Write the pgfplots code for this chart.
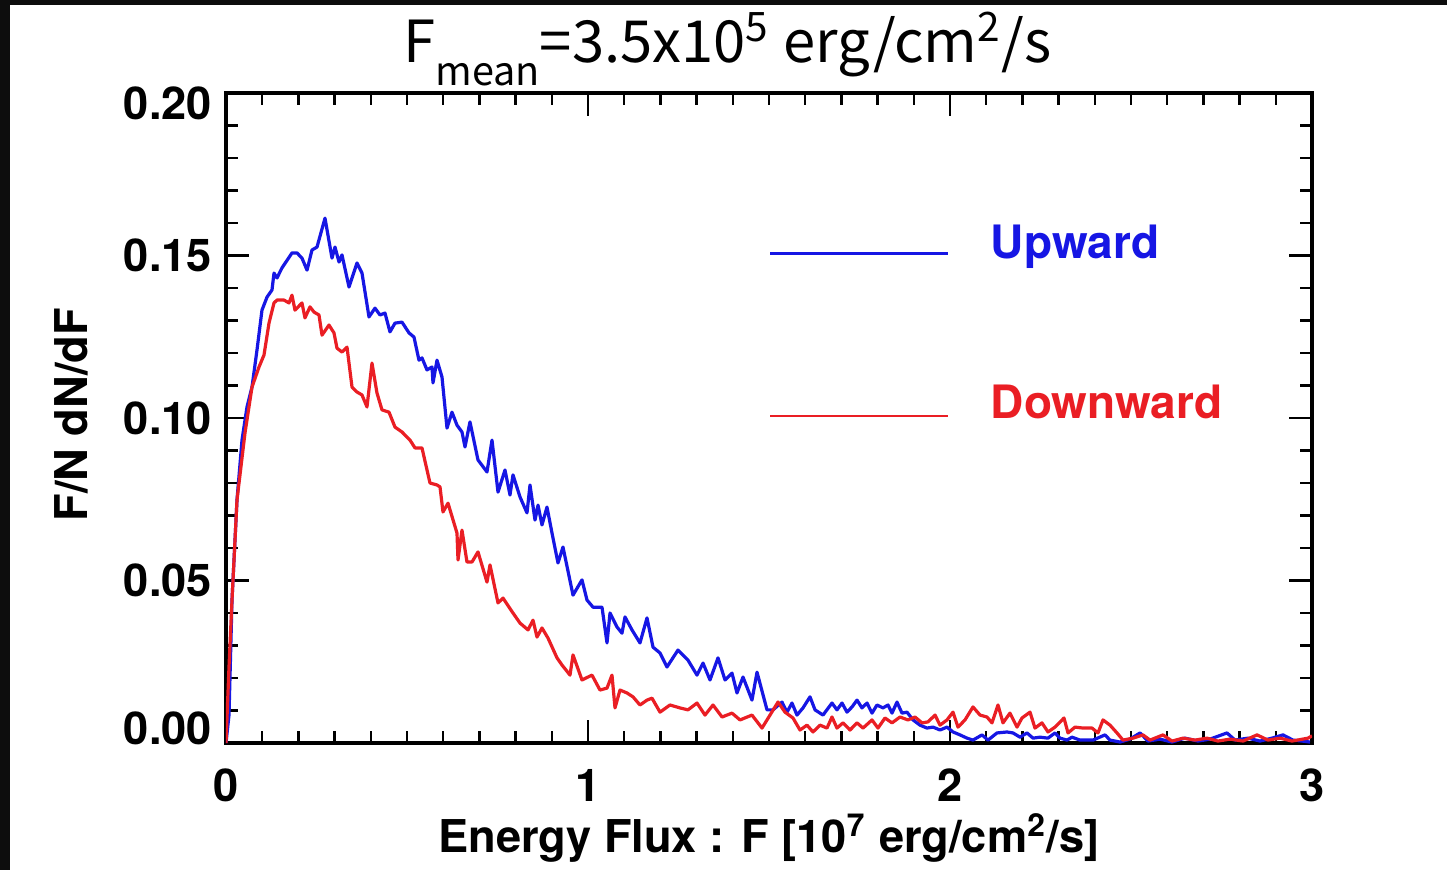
\documentclass[border=0pt]{standalone}
\usepackage{fontspec}
\setmainfont{TeX Gyre Heros}
\newfontfamily\titlefont{Noto Sans CJK JP}
\usepackage{pgfplots}
\pgfplotsset{compat=1.18}
\definecolor{upblue}{RGB}{22,22,228}
\definecolor{downred}{RGB}{234,30,36}

\begin{document}
\begin{tikzpicture}
% page frame
\fill[black!95] (0pt,0pt) rectangle (361.75pt,-217.5pt);
\fill[white] (2.5pt,-1.25pt) rectangle (361.75pt,-217.5pt);
\path[use as bounding box] (0pt,0pt) rectangle (361.75pt,-217.5pt);

% title
\node[anchor=base, inner sep=0pt] at (181.9pt,-15.5pt)
  {\titlefont\fontsize{14.5}{17}\selectfont F\raisebox{-5.9pt}{\fontsize{9.9}{11}\selectfont mean}=3.5x10\textsuperscript{5} erg/cm\textsuperscript{2}/s};

\begin{axis}[
  at={(56.5pt,-185.75pt)}, anchor=south west,
  width=271.5pt, height=162.5pt, scale only axis,
  xmin=0, xmax=3, ymin=0, ymax=0.2,
  xtick={0,1,2,3}, ytick={0,0.05,0.1,0.15,0.2},
  yticklabels={\raisebox{3.6pt}[\height][\depth]{0.00},0.05,0.10,0.15,\raisebox{-2.7pt}[\height][\depth]{0.20}},
  minor x tick num=9, minor y tick num=4,
  major tick length=5.75pt, minor tick length=3pt,
  tick style={black, line width=0.6pt},
  axis line style={line width=0.85pt},
  /pgf/number format/assume math mode=true,
  tick label style={font=\fontsize{11.3}{13}\selectfont\bfseries},
  xticklabel style={yshift=-3pt},
  xlabel={Energy Flux : F [10\textsuperscript{7} erg/cm\textsuperscript{2}/s]},
  ylabel={F/N dN/dF},
  label style={font=\fontsize{11.3}{13}\selectfont\bfseries},
  xlabel style={at={(axis description cs:0.5,-0.1677)}, anchor=base},
  ylabel style={at={(axis description cs:-0.142,0.505)}, anchor=center},
]

% upward flux distribution
\addplot[upblue, line width=0.8pt, line join=round] table {
x y
0 0
0.0083 0.0086
0.0166 0.0440
0.0304 0.0748
0.0442 0.0932
0.0580 0.1034
0.0718 0.1095
0.0856 0.1209
0.0994 0.1332
0.1133 0.1372
0.1271 0.1394
0.1326 0.1446
0.1409 0.1431
0.1547 0.1462
0.1823 0.1508
0.1961 0.1508
0.2099 0.1492
0.2238 0.1455
0.2376 0.1517
0.2514 0.1526
0.2735 0.1615
0.2928 0.1492
0.3011 0.1526
0.3122 0.1480
0.3204 0.1502
0.3398 0.1403
0.3619 0.1477
0.3757 0.1446
0.3950 0.1311
0.4116 0.1338
0.4254 0.1317
0.4392 0.1323
0.4530 0.1265
0.4669 0.1292
0.4862 0.1295
0.5055 0.1262
0.5193 0.1249
0.5331 0.1178
0.5414 0.1185
0.5552 0.1148
0.5691 0.1157
0.5718 0.1108
0.5829 0.1178
0.5967 0.1126
0.6105 0.0969
0.6243 0.1018
0.6381 0.0978
0.6519 0.0957
0.6602 0.0911
0.6740 0.0988
0.6961 0.0871
0.7210 0.0834
0.7348 0.0932
0.7514 0.0772
0.7707 0.0840
0.7845 0.0763
0.7928 0.0825
0.8122 0.0757
0.8315 0.0708
0.8398 0.0794
0.8536 0.0686
0.8619 0.0732
0.8729 0.0671
0.8867 0.0726
0.9006 0.0646
0.9171 0.0554
0.9309 0.0603
0.9586 0.0455
0.9834 0.0502
0.9972 0.0440
1.0138 0.0418
1.0387 0.0418
1.0525 0.0308
1.0608 0.0400
1.0801 0.0357
1.0939 0.0338
1.1022 0.0388
1.1215 0.0348
1.1436 0.0308
1.1630 0.0385
1.1796 0.0295
1.1989 0.0277
1.2182 0.0234
1.2486 0.0286
1.2762 0.0255
1.3011 0.0209
1.3177 0.0246
1.3370 0.0194
1.3591 0.0262
1.3785 0.0194
1.3978 0.0215
1.4116 0.0154
1.4282 0.0203
1.4530 0.0132
1.4669 0.0218
1.4945 0.0102
1.5110 0.0102
1.5359 0.0126
1.5497 0.0095
1.5635 0.0123
1.5773 0.0086
1.5939 0.0108
1.6133 0.0142
1.6271 0.0102
1.6492 0.0086
1.6740 0.0123
1.6878 0.0102
1.7017 0.0123
1.7155 0.0095
1.7293 0.0111
1.7431 0.0132
1.7569 0.0108
1.7707 0.0123
1.7845 0.0092
1.7983 0.0117
1.8149 0.0108
1.8287 0.0117
1.8398 0.0092
1.8536 0.0126
1.8674 0.0092
1.8812 0.0095
1.8978 0.0071
1.9171 0.0055
1.9365 0.0046
1.9530 0.0049
1.9724 0.0040
1.9917 0.0049
2.0083 0.0034
2.0276 0.0025
2.0470 0.0015
2.0635 0.0009
2.0884 0.0025
2.1050 0.0009
2.1298 0.0031
2.1575 0.0034
2.1740 0.0031
2.1934 0.0018
2.2127 0.0031
2.2293 0.0015
2.2486 0.0018
2.2707 0.0015
2.2901 0.0031
2.3039 0.0015
2.3232 0.0009
2.3370 0.0018
2.3591 0.0009
2.3950 0.0009
2.4282 0.0025
2.4420 0.0009
2.4696 0.0003
2.4972 0.0012
2.5249 0.0031
2.5470 0.0006
2.5801 0.0012
2.6133 0.0003
2.6492 0.0015
2.6851 0.0006
2.7182 0.0012
2.7652 0.0031
2.7873 0.0009
2.8232 0.0015
2.8564 0.0006
2.8895 0.0015
2.9199 0.0025
2.9475 0.0009
2.9724 0.0006
2.9945 0.0003
};

% downward flux distribution
\addplot[downred, line width=0.8pt, line join=round] table {
x y
0 0
0.0083 0.0234
0.0166 0.0440
0.0304 0.0748
0.0525 0.0954
0.0718 0.1095
0.0912 0.1157
0.1050 0.1194
0.1188 0.1292
0.1326 0.1354
0.1409 0.1363
0.1602 0.1363
0.1740 0.1354
0.1823 0.1378
0.1906 0.1332
0.2099 0.1354
0.2182 0.1308
0.2320 0.1342
0.2431 0.1326
0.2569 0.1317
0.2652 0.1255
0.2845 0.1286
0.2983 0.1262
0.3066 0.1215
0.3204 0.1203
0.3343 0.1218
0.3481 0.1095
0.3619 0.1080
0.3757 0.1071
0.3895 0.1034
0.4033 0.1169
0.4171 0.1077
0.4309 0.1025
0.4503 0.1018
0.4669 0.0972
0.4862 0.0957
0.5083 0.0932
0.5221 0.0908
0.5414 0.0908
0.5635 0.0800
0.5829 0.0794
0.5912 0.0788
0.5994 0.0711
0.6133 0.0738
0.6381 0.0646
0.6409 0.0563
0.6519 0.0655
0.6657 0.0557
0.6796 0.0557
0.6961 0.0588
0.7210 0.0495
0.7293 0.0548
0.7514 0.0431
0.7652 0.0446
0.7928 0.0400
0.8122 0.0369
0.8343 0.0348
0.8481 0.0378
0.8591 0.0326
0.8729 0.0354
0.8895 0.0323
0.9144 0.0262
0.9282 0.0240
0.9503 0.0209
0.9586 0.0271
0.9834 0.0194
1.0110 0.0209
1.0331 0.0163
1.0525 0.0169
1.0663 0.0209
1.0746 0.0108
1.0884 0.0163
1.1077 0.0154
1.1243 0.0142
1.1436 0.0117
1.1630 0.0132
1.1768 0.0138
1.1989 0.0095
1.2265 0.0117
1.2541 0.0108
1.2762 0.0102
1.3011 0.0123
1.3232 0.0086
1.3453 0.0117
1.3702 0.0080
1.3978 0.0092
1.4199 0.0071
1.4530 0.0086
1.4807 0.0046
1.5028 0.0086
1.5249 0.0126
1.5442 0.0095
1.5663 0.0077
1.5856 0.0040
1.6050 0.0055
1.6215 0.0034
1.6409 0.0055
1.6602 0.0046
1.6740 0.0080
1.6878 0.0046
1.7044 0.0062
1.7238 0.0040
1.7431 0.0062
1.7597 0.0046
1.7845 0.0071
1.8011 0.0046
1.8204 0.0077
1.8398 0.0062
1.8619 0.0080
1.8840 0.0071
1.9033 0.0080
1.9227 0.0062
1.9392 0.0065
1.9586 0.0086
1.9724 0.0055
1.9917 0.0071
2.0083 0.0095
2.0221 0.0049
2.0414 0.0071
2.0635 0.0111
2.0829 0.0086
2.1022 0.0080
2.1160 0.0062
2.1326 0.0117
2.1464 0.0062
2.1657 0.0092
2.1851 0.0049
2.1989 0.0077
2.2210 0.0095
2.2348 0.0046
2.2541 0.0062
2.2707 0.0034
2.2901 0.0049
2.3149 0.0077
2.3260 0.0031
2.3453 0.0049
2.3674 0.0046
2.3923 0.0046
2.4088 0.0031
2.4227 0.0071
2.4420 0.0055
2.4613 0.0031
2.4779 0.0009
2.5055 0.0015
2.5331 0.0025
2.5525 0.0009
2.5884 0.0025
2.6133 0.0006
2.6436 0.0015
2.6768 0.0009
2.7099 0.0015
2.7403 0.0006
2.7735 0.0012
2.8094 0.0006
2.8481 0.0025
2.8785 0.0009
2.9116 0.0015
2.9448 0.0006
2.9890 0.0015
3.0000 0.0022
};

% key
\addplot[upblue, line width=0.7pt] coordinates {(1.503,0.1505) (1.994,0.1505)};
\addplot[downred, line width=0.7pt] coordinates {(1.503,0.1006) (1.994,0.1006)};
\node[anchor=base west, inner sep=0pt, text=upblue, font=\fontsize{11.5}{13}\selectfont\bfseries]
  at (axis cs:2.1105,0.1492) {Upward};
\node[anchor=base west, inner sep=0pt, text=downred, font=\fontsize{11.5}{13}\selectfont\bfseries]
  at (axis cs:2.1105,0.0998) {Downward};
\end{axis}
\end{tikzpicture}
\end{document}
